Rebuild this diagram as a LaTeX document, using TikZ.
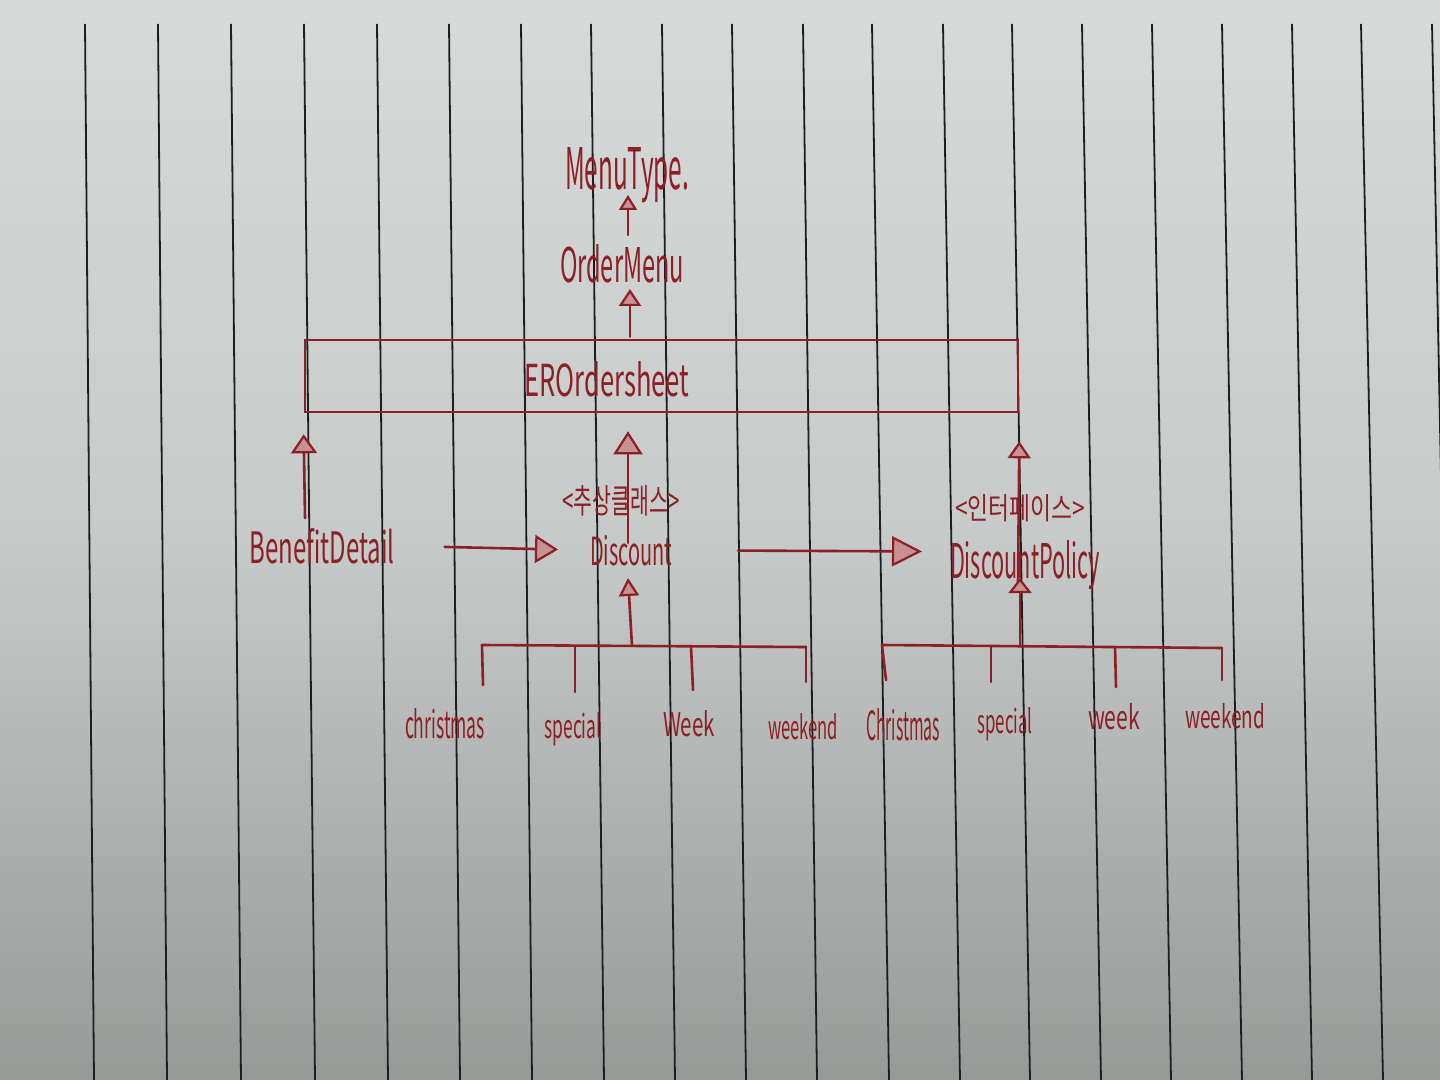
\documentclass[tikz,border=0pt]{standalone}
\usepackage{fontspec}
\setmainfont{Noto Sans CJK KR}
\usetikzlibrary{arrows.meta}
\definecolor{ink}{RGB}{140,32,38}
\definecolor{inkpale}{RGB}{200,146,146}
\definecolor{papertop}{RGB}{214,218,217}
\definecolor{papermid}{RGB}{198,202,201}
\definecolor{paperbot}{RGB}{152,154,152}
\definecolor{ruling}{RGB}{30,30,34}
\newcommand{\hw}[3]{\resizebox{#1pt}{#2pt}{#3}}
\tikzset{
  lbl/.style={inner sep=0pt, outer sep=0pt, text=ink},
  inkline/.style={draw=ink, line width=1.3pt, line cap=round},
  head/.style 2 args={inkline, -{Triangle[length=#1pt, width=#2pt, fill=inkpale, line width=1.1pt]}},
  classbox/.style={draw=ink, line width=1.3pt, inner sep=0pt},
  rulingline/.style={draw=ruling, line width=0.9pt},
}
\begin{document}
\begin{tikzpicture}[x=0.5pt, y=-0.5pt]
\useasboundingbox (0,0) rectangle (1440,1080);
\clip (0,0) rectangle (1440,1080);
% paper
\shade[top color=papertop, bottom color=paperbot, middle color=papermid] (0,0) rectangle (1440,1080);
\foreach \a/\b in {85/93, 158/166, 231/240, 304/314, 377/387, 449/459, 521/531, 591/603, 662/674, 732/745, 803/816, 872/888, 943/959, 1012/1029, 1082/1100, 1152/1170, 1222/1241, 1292/1311, 1361/1382, 1432/1452}
  \draw[rulingline] (\a,24) -- (\b+1,1080);

% class nodes
\node[lbl, anchor=base] (menutype) at (627,190) {\hw{62}{21}{MenuType.}};
\node[lbl, anchor=base] (ordermenu) at (622,283) {\hw{62}{19}{OrderMenu}};
\node[classbox, minimum width=356.5pt, minimum height=36pt] (sheet) at (661.5,376) {};
\node[lbl, anchor=base] (sheetname) at (607,396) {\hw{82.5}{17.5}{EROrdersheet}};
\node[lbl] (abstract) at (621,501) {\hw{58.5}{14}{<추상클래스>}};
\node[lbl, anchor=base] (discount) at (631,565) {\hw{41}{15}{Discount}};
\node[lbl, anchor=base] (benefit) at (322,563) {\hw{72.5}{17.5}{BenefitDetail}};
\node[lbl] (interface) at (1020,508) {\hw{65}{12.5}{<인터페이스>}};
\node[lbl, anchor=base] (policy) at (1025,578) {\hw{75}{19}{DiscountPolicy}};

% leaves
\node[lbl, anchor=base] (c1) at (445,738) {\hw{40}{15}{christmas}};
\node[lbl, anchor=base] (s1) at (573,738) {\hw{28.5}{13}{special}};
\node[lbl, anchor=base] (w1) at (689,736) {\hw{26}{13}{Week}};
\node[lbl, anchor=base] (we1) at (803,739) {\hw{35}{13}{weekend}};
\node[lbl, anchor=base] (c2) at (903,740) {\hw{37}{16}{Christmas}};
\node[lbl, anchor=base] (s2) at (1005,733) {\hw{27.5}{13}{special}};
\node[lbl, anchor=base] (w2) at (1114,729) {\hw{26}{13}{week}};
\node[lbl, anchor=base] (we2) at (1225,728) {\hw{40}{12.5}{weekend}};

% connectors upward
\draw[head={7.5}{9}] ([xshift=3pt,yshift=5pt]ordermenu.north) -- ([xshift=0.5pt,yshift=-2.5pt]menutype.base);
\draw[head={8.5}{11}] ([xshift=-15.75pt,yshift=1pt]sheet.north) -- ([xshift=4pt,yshift=-3pt]ordermenu.base);
\draw[head={9.5}{13}] ([xshift=-8.5pt,yshift=5pt]benefit.north) -- ([yshift=-10.5pt]sheet.south west);
\draw[head={11.5}{14.5}] ([xshift=-1.5pt,yshift=11pt]discount.base) -- ([xshift=-16.75pt,yshift=-9pt]sheet.south);
\draw[head={8.5}{11.5}] ([xshift=-3.5pt,yshift=-3pt]policy.base) -- ([yshift=-14pt]sheet.south east);

% horizontal connectors
\draw[head={11.5}{14}, shorten <=25pt, shorten >=16pt] (benefit.east) -- (discount.west);
\draw[head={15}{15}, shorten <=33pt, shorten >=14pt] (discount.east) -- ([yshift=6.5pt]policy.west);

% hierarchy 1
\coordinate (bar1L) at (482,645);
\coordinate (bar1R) at (806,647);
\coordinate (hub1) at (632,646);
\coordinate (leg1a) at (483,685);
\coordinate (leg1b) at (575,692);
\coordinate (leg1c) at (693,690);
\coordinate (leg1d) at (806,682);
\draw[inkline] (bar1L) -- (bar1R);
\draw[inkline] (bar1L) -- (leg1a);
\draw[inkline] (leg1b |- hub1) -- (leg1b);
\draw[inkline] (691,646) -- (leg1c);
\draw[inkline] (bar1R) -- (leg1d);
\draw[head={9}{10}] (hub1) -- ([xshift=-1.5pt,yshift=-6.5pt]discount.base);

% hierarchy 2
\coordinate (bar2L) at (882,645);
\coordinate (bar2R) at (1222,648);
\coordinate (hub2) at (1020,646);
\coordinate (leg2a) at (886,680);
\coordinate (leg2b) at (991,682);
\coordinate (leg2c) at (1116,687);
\coordinate (leg2d) at (1222,680);
\draw[inkline] (bar2L) -- (bar2R);
\draw[inkline] (bar2L) -- (leg2a);
\draw[inkline] (leg2b |- hub2) -- (leg2b);
\draw[inkline] (1115,647) -- (leg2c);
\draw[inkline] (bar2R) -- (leg2d);
\draw[head={7.5}{11.5}] (hub2) -- ([xshift=-2.5pt]policy.base);
\end{tikzpicture}
\end{document}
